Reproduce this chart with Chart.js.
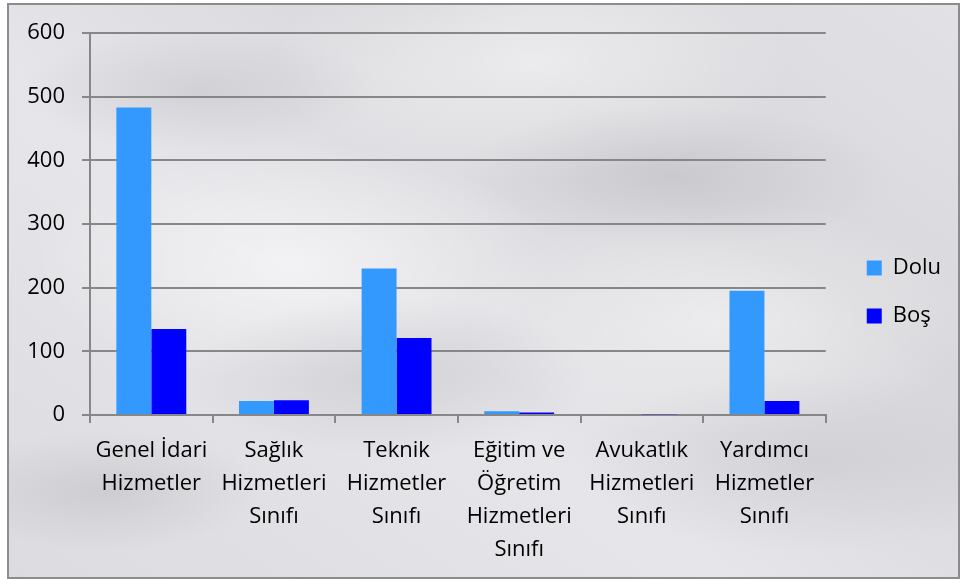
<!DOCTYPE html>
<html>
<head>
<meta charset="utf-8">
<script src="https://cdn.jsdelivr.net/npm/chart.js@4"></script>
<style>
html,body{margin:0;padding:0;background:#fff;}
#box{position:absolute;left:7px;top:3px;width:949px;height:572px;border:2px solid #8c8c8c;
  background:
    radial-gradient(ellipse 180px 60px at 20% 15%,rgba(160,160,168,.25),rgba(160,160,168,0)),
    radial-gradient(ellipse 220px 70px at 70% 30%,rgba(150,150,158,.22),rgba(150,150,158,0)),
    radial-gradient(ellipse 200px 80px at 40% 65%,rgba(150,150,158,.25),rgba(150,150,158,0)),
    radial-gradient(ellipse 240px 90px at 85% 80%,rgba(160,160,168,.22),rgba(160,160,168,0)),
    radial-gradient(ellipse 160px 60px at 10% 85%,rgba(150,150,158,.25),rgba(150,150,158,0)),
    radial-gradient(ellipse 260px 120px at 55% 10%,rgba(255,255,255,.5),rgba(255,255,255,0)),
    radial-gradient(ellipse 260px 120px at 30% 45%,rgba(255,255,255,.5),rgba(255,255,255,0)),
    radial-gradient(ellipse 260px 120px at 75% 55%,rgba(255,255,255,.45),rgba(255,255,255,0)),
    linear-gradient(35deg,#dcdce0,#e6e6ea 40%,#d8d8dc 70%,#e2e2e6);}
canvas{display:block;}
</style>
</head>
<body>
<div id="box"><canvas id="c" width="949" height="572"></canvas></div>
<script>
// kategori (label multi-baris)
const categories=[
  ['Genel İdari','Hizmetler'],
  ['Sağlık','Hizmetleri','Sınıfı'],
  ['Teknik','Hizmetler','Sınıfı'],
  ['Eğitim ve','Öğretim','Hizmetleri','Sınıfı'],
  ['Avukatlık','Hizmetleri','Sınıfı'],
  ['Yardımcı','Hizmetler','Sınıfı']
];
const dolu=[483,22,230,6,0,195];
const bos=[135,23,121,4,1,22];
const yTicks=[0,100,200,300,400,500,600];

const FONT={family:'"Open Sans", sans-serif',size:22};
const GRID='#878787';

// geser legend sedikit
const legendShift={id:'legendShift',afterLayout(chart){
  let lg=chart.legend; if(!lg) return;
  lg.left+=15; lg.right+=15; lg.top-=7; lg.bottom-=7;
}};

new Chart(document.getElementById('c'),{
  type:'bar',
  data:{
    labels:categories,
    datasets:[
      {label:'Dolu',data:dolu,backgroundColor:'#3399ff',borderWidth:0},
      {label:'Boş',data:bos,backgroundColor:'#0000ff',borderWidth:0}
    ]
  },
  options:{
    responsive:false,animation:false,
    layout:{padding:{left:17,top:16,right:22,bottom:0}},
    categoryPercentage:0.57,barPercentage:1,
    plugins:{
      legend:{position:'right',
        labels:{font:FONT,color:'#000',boxWidth:15,boxHeight:15,padding:26}},
      tooltip:{enabled:false}
    },
    scales:{
      x:{
        grid:{offset:true,drawOnChartArea:false,color:GRID,lineWidth:2,tickLength:8},
        border:{color:GRID,width:2},
        ticks:{font:{...FONT,lineHeight:1.5},color:'#000',maxRotation:0,autoSkip:false,padding:11}
      },
      y:{
        min:0,max:600,
        afterBuildTicks:ax=>{ax.ticks=yTicks.map(v=>({value:v}));},
        afterFit:ax=>{ax.width=64;},
        grid:{color:GRID,lineWidth:2,tickLength:8},
        border:{color:GRID,width:2},
        ticks:{font:{...FONT,lineHeight:1.0},color:'#000',padding:17}
      }
    }
  },
  plugins:[legendShift]
});
</script>
</body>
</html>
